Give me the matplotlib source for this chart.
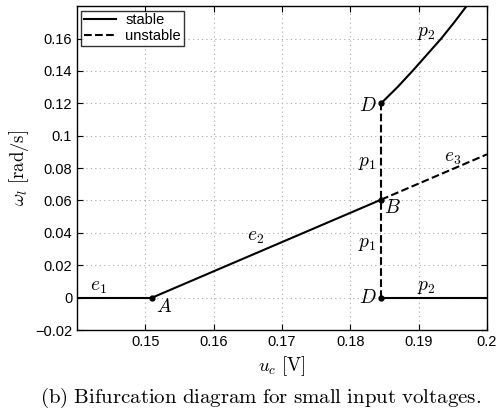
import matplotlib
matplotlib.use('Agg')
import matplotlib.pyplot as plt

plt.rcParams['mathtext.fontset'] = 'cm'
plt.rcParams['font.family'] = ['Liberation Sans', 'DejaVu Sans']

# branch data
e1_x = [0.14, 0.151]
e1_y = [0.0, 0.0]
e2_x = [0.151, 0.1845]
e2_y = [0.0, 0.0605]
e3_x = [0.1845, 0.2]
e3_y = [0.0605, 0.0885]
p1_x = [0.1845, 0.1845]
p1_y = [0.0, 0.12]
p2_low_x = [0.1845, 0.2]
p2_low_y = [0.0, 0.0]
p2_up_x = [0.1845, 0.1869, 0.1891, 0.1912, 0.1933, 0.1952, 0.1970]
p2_up_y = [0.12, 0.13, 0.14, 0.15, 0.16, 0.17, 0.18]
pts_x = [0.151, 0.1845, 0.1845, 0.1845]
pts_y = [0.0, 0.0605, 0.12, 0.0]

# labels: (text, x, y) centres
labels = [
    ('$e_1$', 0.1432, 0.006),
    ('$A$', 0.1527, -0.0055),
    ('$e_2$', 0.1661, 0.037),
    ('$B$', 0.1862, 0.0555),
    ('$p_1$', 0.1825, 0.083),
    ('$p_1$', 0.1825, 0.033),
    ('$e_3$', 0.1949, 0.086),
    ('$D$', 0.1825, 0.1185),
    ('$D$', 0.1825, 0.0),
    ('$p_2$', 0.1911, 0.163),
    ('$p_2$', 0.1911, 0.006),
]

fig = plt.figure(figsize=(5, 4.12), dpi=100)
ax = fig.add_axes([0.154, 0.199, 0.82, 0.786])

ax.plot(e1_x, e1_y, 'k-', lw=1.5, label='stable')
ax.plot(e3_x, e3_y, 'k--', lw=1.5, label='unstable')
ax.plot(e2_x, e2_y, 'k-', lw=1.5)
ax.plot(p1_x, p1_y, 'k--', lw=1.5)
ax.plot(p2_low_x, p2_low_y, 'k-', lw=1.5)
ax.plot(p2_up_x, p2_up_y, 'k-', lw=1.5)
ax.plot(pts_x, pts_y, 'ko', ms=3.5)

ax.set_xlim(0.14, 0.2)
ax.set_ylim(-0.02, 0.18)
ax.set_xticks([0.15, 0.16, 0.17, 0.18, 0.19, 0.2])
ax.set_xticklabels(['0.15', '0.16', '0.17', '0.18', '0.19', '0.2'])
ax.set_yticks([-0.02, 0, 0.02, 0.04, 0.06, 0.08, 0.1, 0.12, 0.14, 0.16])
ax.set_yticklabels(['\u22120.02', '0', '0.02', '0.04', '0.06', '0.08', '0.1', '0.12', '0.14', '0.16'])
ax.tick_params(direction='in', top=True, right=True, labelsize=10.5, length=4)
ax.grid(True, linestyle=(0, (1, 3)), color='#aaaaaa', lw=0.8)
for s in ax.spines.values():
    s.set_linewidth(1.0)

for txt, x, y in labels:
    ax.text(x, y, txt, fontsize=14, ha='center', va='center')

ax.set_xlabel(r'$u_c\ [\mathrm{V}]$', fontsize=13.5, labelpad=4)
ax.set_ylabel(r'$\omega_l\ [\mathrm{rad/s}]$', fontsize=13.5, labelpad=3)

leg = ax.legend(loc='upper left', fontsize=10.5, frameon=True, fancybox=False,
                handlelength=2.2, borderpad=0.2, labelspacing=0.1,
                borderaxespad=0.3, handletextpad=0.6)
leg.get_frame().set_edgecolor('black')
leg.get_frame().set_linewidth(1.0)

fig.text(0.522, 0.022, r'$\mathrm{(b)\ Bifurcation\ diagram\ for\ small\ input\ voltages.}$',
         ha='center', fontsize=15)

fig.savefig('out.png', dpi=100)
